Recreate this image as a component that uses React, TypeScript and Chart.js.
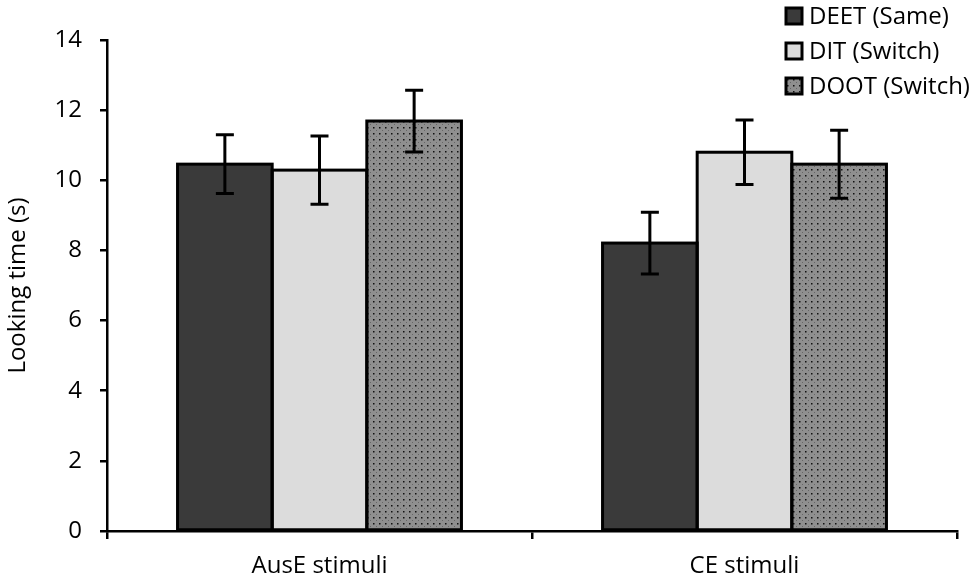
import { useEffect, useRef } from 'react'
import { Chart, registerables } from 'chart.js'

Chart.register(...registerables)

const categories = ['AusE stimuli', 'CE stimuli']
const seriesNames = ['DEET (Same)', 'DIT (Switch)', 'DOOT (Switch)']
const deetValues = [10.46, 8.21]
const ditValues = [10.29, 10.8]
const dootValues = [11.69, 10.46]
const deetErrors = [0.84, 0.88]
const ditErrors = [0.97, 0.92]
const dootErrors = [0.88, 0.97]
const yTicks = [0, 2, 4, 6, 8, 10, 12, 14]

const FONT = "'Open Sans', sans-serif"

function makeDots(): CanvasPattern | string {
  const c = document.createElement('canvas')
  c.width = 6
  c.height = 6
  const g = c.getContext('2d')
  if (!g) return '#8a8a8a'
  g.fillStyle = '#8f8f8f'
  g.fillRect(0, 0, 6, 6)
  g.fillStyle = '#111'
  g.fillRect(1, 1, 1.5, 1.5)
  g.fillStyle = '#666'
  g.fillRect(4, 4, 1, 1)
  return g.createPattern(c, 'repeat') ?? '#8a8a8a'
}

// outlines (shared 3px edges) + error bars
const errorBars = {
  id: 'errorBars',
  afterDatasetsDraw(chart: any) {
    const { ctx } = chart
    const y = chart.scales.y
    ctx.save()
    ctx.strokeStyle = '#000'
    ctx.lineWidth = 3
    ctx.lineJoin = 'miter'
    chart.data.datasets.forEach((_ds: any, i: number) => {
      const meta = chart.getDatasetMeta(i)
      meta.data.forEach((bar: any) => {
        const w = bar.width
        ctx.strokeRect(bar.x - w / 2, bar.y, w, bar.base - bar.y)
      })
    })
    chart.data.datasets.forEach((ds: any, i: number) => {
      const meta = chart.getDatasetMeta(i)
      meta.data.forEach((bar: any, j: number) => {
        const v = ds.data[j]
        const e = ds.errors[j]
        const top = y.getPixelForValue(v + e)
        const bot = y.getPixelForValue(v - e)
        ctx.beginPath()
        ctx.moveTo(bar.x, top)
        ctx.lineTo(bar.x, bot)
        ctx.moveTo(bar.x - 9, top)
        ctx.lineTo(bar.x + 9, top)
        ctx.moveTo(bar.x - 9, bot)
        ctx.lineTo(bar.x + 9, bot)
        ctx.stroke()
      })
    })
    ctx.restore()
  },
}

const boxLegend = {
  id: 'boxLegend',
  afterDraw(chart: any) {
    const { ctx } = chart
    ctx.save()
    ctx.font = `24px ${FONT}`
    ctx.textBaseline = 'middle'
    chart.data.datasets.forEach((ds: any, i: number) => {
      const cy = 16 + i * 35
      ctx.fillStyle = ds.backgroundColor
      ctx.fillRect(786, cy - 8, 16, 16)
      ctx.strokeStyle = '#000'
      ctx.lineWidth = 3
      ctx.strokeRect(786, cy - 8, 16, 16)
      ctx.fillStyle = '#000'
      ctx.fillText(ds.label, 809, cy + 1)
    })
    ctx.restore()
  },
}

export default function App() {
  const canvasRef = useRef<HTMLCanvasElement | null>(null)
  const chartRef = useRef<Chart | null>(null)

  useEffect(() => {
    document.body.style.margin = '0'
    const ctx = canvasRef.current?.getContext('2d')
    if (!ctx) return
    if (chartRef.current) chartRef.current.destroy()

    const dots = makeDots()
    const common = {
      borderWidth: 0,
      categoryPercentage: 0.668,
      barPercentage: 1.0,
    }

    chartRef.current = new Chart(ctx, {
      type: 'bar',
      data: {
        labels: categories,
        datasets: [
          { ...common, label: seriesNames[0], data: deetValues, errors: deetErrors, backgroundColor: '#3a3a3a' } as any,
          { ...common, label: seriesNames[1], data: ditValues, errors: ditErrors, backgroundColor: '#dcdcdc' } as any,
          { ...common, label: seriesNames[2], data: dootValues, errors: dootErrors, backgroundColor: dots } as any,
        ],
      },
      options: {
        animation: false,
        responsive: false,
        layout: { padding: { top: 40, right: 23, left: 0, bottom: 0 } },
        plugins: {
          legend: { display: false },
          tooltip: { enabled: false },
        },
        scales: {
          x: {
            offset: true,
            border: { display: true, color: '#000', width: 2.5 },
            grid: { display: true, offset: true, drawOnChartArea: false, drawTicks: true, tickLength: 8, color: '#000', lineWidth: 2.5 },
            ticks: { color: '#000', font: { family: FONT, size: 24 }, padding: 13 },
            afterFit: (s: any) => { s.height = 54 },
          },
          y: {
            min: 0,
            max: 14,
            afterBuildTicks: (s: any) => { s.ticks = yTicks.map((v) => ({ value: v })) },
            border: { display: true, color: '#000', width: 2.5 },
            grid: { display: true, drawOnChartArea: false, drawTicks: true, tickLength: 7, color: '#000', lineWidth: 2.5 },
            ticks: { color: '#000', font: { family: FONT, size: 24 }, padding: 18 },
            title: { display: true, text: 'Looking time (s)', color: '#000', font: { family: FONT, size: 24 }, padding: { top: 4, bottom: 6 } },
            afterFit: (s: any) => { s.width = 107 },
          },
        },
      },
      plugins: [errorBars, boxLegend],
    })

    return () => {
      chartRef.current?.destroy()
      chartRef.current = null
    }
  }, [])

  return <canvas ref={canvasRef} width={980} height={585} style={{ display: 'block' }}></canvas>
}
